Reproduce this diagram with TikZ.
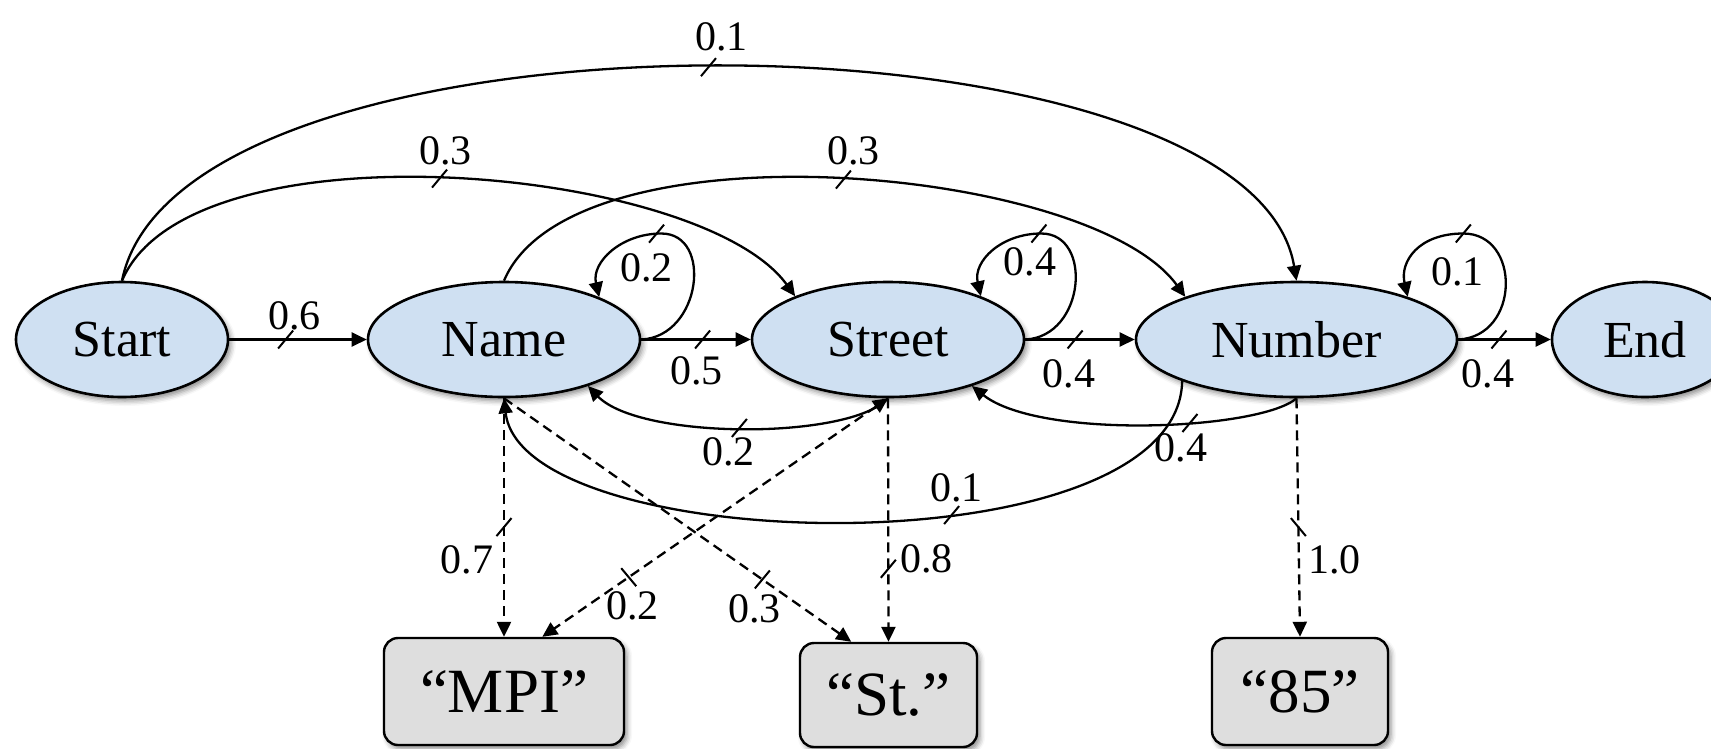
\documentclass[tikz,border=0pt]{standalone}
\usepackage{fontspec}
\setmainfont{Liberation Serif}
\usetikzlibrary{arrows.meta,shapes.geometric,shapes.misc,shadows.blur}
\definecolor{statefill}{RGB}{207,224,242}
\definecolor{obsfill}{RGB}{222,222,222}
\begin{document}
\begin{tikzpicture}[x=1pt,y=1pt,
  ah/.tip={Triangle[length=15pt,width=14pt]},
  shade/.style={blur shadow={shadow xshift=3pt,shadow yshift=-4pt,shadow blur radius=5pt,shadow opacity=45}},
  state/.style={ellipse, draw, line width=2.6pt, fill=statefill, shade,
    font=\fontsize{52}{60}\selectfont, inner sep=0pt, minimum height=115pt},
  obs/.style={rectangle, rounded corners=14pt, draw, line width=2.4pt, fill=obsfill, shade,
    font=\fontsize{63}{70}\selectfont, inner sep=0pt},
  tr/.style={line width=2.3pt, -ah},
  em/.style={tr, dash pattern=on 10pt off 6pt},
  tk/.style={strike out, draw, solid, line width=2pt, inner sep=0pt,
    minimum width=13pt, minimum height=16pt},
  tkb/.style={tk, xscale=-1},
  lbl/.style={font=\fontsize{42}{46}\selectfont, inner sep=0pt},
]
\useasboundingbox (0,0) rectangle (1711,-748);
\clip (0,0) rectangle (1711,-748);

% hidden states
\node[state, minimum width=212pt] (start)  at (122,-339.5)    {Start};
\node[state, minimum width=272pt] (name)   at (504,-339.5)    {Name};
\node[state, minimum width=272pt] (street) at (888,-339.5)    {Street};
\node[state, minimum width=321pt] (number) at (1296.5,-339.5) {Number};
\node[state, minimum width=186pt] (end)    at (1645,-339.5)   {End};

% observed tokens
\node[obs, minimum width=240pt, minimum height=107pt] (mpi) at (504,-691.5)  {“MPI”};
\node[obs, minimum width=177pt, minimum height=104pt] (st)  at (888.5,-695)  {“St.”};
\node[obs, minimum width=176pt, minimum height=107pt] (n85) at (1300,-691.5) {“85”};

% forward transitions
\draw[tr] (start) -- (name)
  node[tk, pos=.41]{} node[lbl, pos=.41, xshift=9pt, yshift=24pt]{0.6};
\draw[tr] (name) -- (street)
  node[tk, pos=.56]{} node[lbl, pos=.56, xshift=-6pt, yshift=-31pt]{0.5};
\draw[tr] (street) -- (number)
  node[tk, pos=.455]{} node[lbl, pos=.455, xshift=-6pt, yshift=-34pt]{0.4};
\draw[tr] (number) -- (end)
  node[tk, pos=.44]{} node[lbl, pos=.44, xshift=-11pt, yshift=-34pt]{0.4};

% self loops
\draw[tr] (name.east) .. controls +(60,3) and +(52,0) .. ++(20,106)
  .. controls +(-40,0) and +(-8,35) .. (name.24)
  node[tk, pos=.04]{} node[lbl, pos=.04, xshift=-10pt, yshift=-34pt]{0.2};
\draw[tr] (street.east) .. controls +(60,3) and +(52,0) .. ++(16,106)
  .. controls +(-40,0) and +(-8,35) .. (street.25)
  node[tk, pos=.02]{} node[lbl, pos=.02, xshift=-9pt, yshift=-28pt]{0.4};
\draw[tr] (number.east) .. controls +(62,3) and +(58,0) .. ++(5,106)
  .. controls +(-45,0) and +(-8,35) .. (number.21)
  node[tk, pos=.0]{} node[lbl, pos=.0, xshift=-6pt, yshift=-38pt]{0.1};

% skipping transitions above
\draw[tr] (start.north) .. controls (180,8) and (1250,0) .. (number.north)
  node[tk, pos=.497]{} node[lbl, pos=.497, xshift=13pt, yshift=30pt]{0.1};
\draw[tr] (start.north) .. controls (190,-120) and (700,-165) .. (street.155)
  node[tk, pos=.49]{} node[lbl, pos=.49, xshift=6pt, yshift=28pt]{0.3};
\draw[tr] (name.north) .. controls (572,-120) and (1090,-165) .. (number.159)
  node[tk, pos=.51]{} node[lbl, pos=.51, xshift=10pt, yshift=29pt]{0.3};

% backward transitions below
\draw[tr] (street.south) .. controls (850,-440) and (640,-440) .. (name.-29)
  node[tk, pos=.51]{} node[lbl, pos=.51, xshift=-11pt, yshift=-24pt]{0.2};
\draw[tr] (number.south) .. controls (1260,-430) and (1040,-440) .. (street.-29)
  node[tk, pos=.39]{} node[lbl, pos=.39, xshift=-9pt, yshift=-25pt]{0.4};
\draw[tr] (number.-160) .. controls (1178,-572) and (522,-558) .. (name.south)
  node[tk, pos=.395]{} node[lbl, pos=.395, xshift=5pt, yshift=27pt]{0.1};

% emissions
\draw[em] (name.south) -- (mpi.north)
  node[tk, pos=.54]{} node[lbl, pos=.54, xshift=-37pt, yshift=-33pt]{0.7};
\draw[em] (name.south) -- (st.125)
  node[tk, pos=.744]{} node[lbl, pos=.744, xshift=-8pt, yshift=-29pt]{0.3};
\draw[em, ah-ah] (street.south) -- (mpi.55)
  node[tkb, pos=.75]{} node[lbl, pos=.75, xshift=4pt, yshift=-29pt]{0.2};
\draw[em] (street.south) -- (st.north)
  node[tk, pos=.70]{} node[lbl, pos=.70, xshift=38pt, yshift=10pt]{0.8};
\draw[em] (number.south) -- (n85.north)
  node[tkb, pos=.54]{} node[lbl, pos=.54, xshift=36pt, yshift=-33pt]{1.0};
\end{tikzpicture}
\end{document}
